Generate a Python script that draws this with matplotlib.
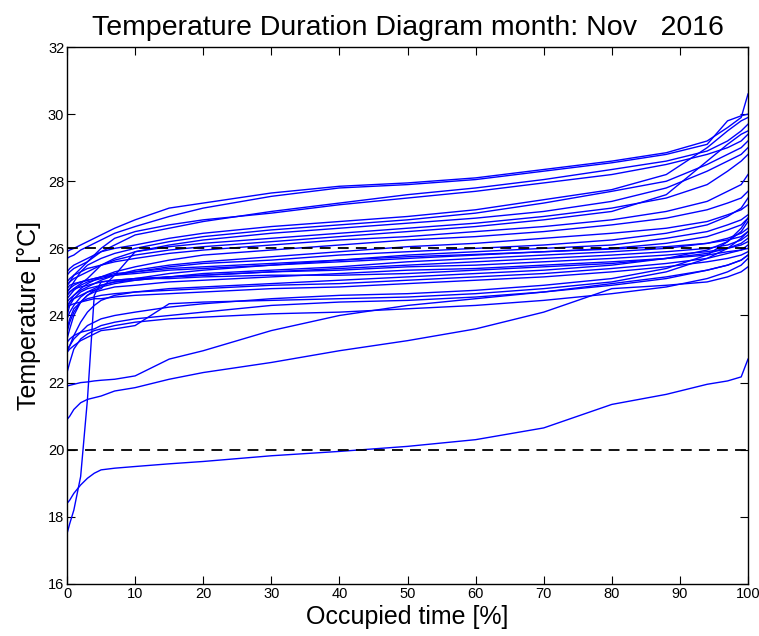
import matplotlib
matplotlib.use("Agg")
import matplotlib.pyplot as plt
import numpy as np

plt.rcParams['font.family'] = ['Liberation Sans', 'DejaVu Sans']

# Occupied-time knots [%] shared by all duration curves
occupied_pct = [0, 0.4, 1, 2, 3, 4, 5, 7, 10, 15, 20, 30, 40, 50, 60, 70, 80, 88, 94, 97, 99, 100]

# Temperature duration curves [°C], one list per room
curves = [
    [25.9, 25.95, 26.0, 26.1, 26.2, 26.3, 26.4, 26.6, 26.85, 27.2, 27.35, 27.65, 27.85, 27.95, 28.1, 28.35, 28.6, 28.85, 29.2, 29.6, 29.9, 30.6],
    [25.7, 25.75, 25.8, 25.95, 26.05, 26.15, 26.25, 26.45, 26.65, 26.95, 27.2, 27.55, 27.8, 27.9, 28.05, 28.3, 28.55, 28.8, 29.1, 29.8, 29.95, 30.0],
    [25.2, 25.3, 25.4, 25.5, 25.6, 25.75, 25.9, 26.1, 26.4, 26.6, 26.8, 27.1, 27.35, 27.6, 27.8, 28.05, 28.35, 28.6, 28.9, 29.2, 29.5, 29.7],
    [24.9, 25.0, 25.2, 25.4, 25.6, 25.8, 26.0, 26.3, 26.5, 26.7, 26.85, 27.05, 27.3, 27.5, 27.7, 27.95, 28.2, 28.5, 28.8, 29.0, 29.2, 29.4],
    [25.3, 25.4, 25.5, 25.6, 25.7, 25.8, 25.9, 26.0, 26.1, 26.3, 26.45, 26.65, 26.8, 26.95, 27.15, 27.45, 27.75, 28.2, 29.0, 29.5, 29.8, 29.9],
    [24.7, 24.8, 25.0, 25.3, 25.5, 25.6, 25.7, 25.85, 26.0, 26.2, 26.35, 26.55, 26.7, 26.85, 27.05, 27.35, 27.7, 28.0, 28.5, 28.8, 29.0, 29.2],
    [24.6, 24.7, 24.8, 24.95, 25.1, 25.3, 25.5, 25.7, 25.9, 26.1, 26.25, 26.45, 26.6, 26.75, 26.9, 27.1, 27.4, 27.8, 28.3, 28.6, 28.8, 29.0],
    [24.3, 24.4, 24.5, 24.6, 24.7, 24.75, 24.8, 25.2, 25.9, 26.05, 26.15, 26.3, 26.45, 26.6, 26.75, 26.95, 27.2, 27.5, 27.9, 28.3, 28.6, 28.8],
    [25.0, 25.1, 25.2, 25.3, 25.4, 25.45, 25.5, 25.6, 25.7, 25.85, 25.95, 26.1, 26.25, 26.35, 26.5, 26.65, 26.85, 27.1, 27.4, 27.7, 27.9, 28.2],
    [24.2, 24.4, 24.6, 24.8, 24.95, 25.05, 25.15, 25.3, 25.45, 25.65, 25.8, 25.95, 26.1, 26.25, 26.35, 26.5, 26.7, 26.9, 27.15, 27.35, 27.5, 27.7],
    [24.5, 24.6, 24.75, 24.9, 25.0, 25.05, 25.1, 25.2, 25.3, 25.45, 25.55, 25.65, 25.8, 25.9, 26.0, 26.1, 26.25, 26.45, 26.7, 26.95, 27.2, 27.5],
    [23.9, 24.1, 24.3, 24.55, 24.7, 24.8, 24.9, 25.0, 25.1, 25.25, 25.35, 25.5, 25.65, 25.8, 25.9, 26.0, 26.1, 26.3, 26.5, 26.7, 26.85, 27.0],
    [24.8, 24.9, 24.95, 25.0, 25.05, 25.1, 25.15, 25.2, 25.25, 25.35, 25.4, 25.5, 25.6, 25.7, 25.8, 25.9, 26.0, 26.15, 26.35, 26.55, 26.7, 26.9],
    [23.5, 23.8, 24.1, 24.4, 24.6, 24.75, 24.85, 24.95, 25.05, 25.15, 25.25, 25.35, 25.45, 25.6, 25.7, 25.8, 25.9, 26.0, 26.15, 26.3, 26.45, 26.6],
    [24.0, 24.3, 24.5, 24.7, 24.8, 24.85, 24.9, 25.0, 25.05, 25.15, 25.2, 25.3, 25.4, 25.5, 25.6, 25.7, 25.8, 25.9, 26.0, 26.1, 26.25, 26.4],
    [24.6, 24.7, 24.8, 24.85, 24.9, 24.95, 25.0, 25.05, 25.1, 25.15, 25.2, 25.3, 25.35, 25.45, 25.5, 25.6, 25.7, 25.8, 25.9, 26.0, 26.1, 26.2],
    [23.3, 23.6, 24.0, 24.4, 24.6, 24.7, 24.75, 24.85, 24.9, 25.0, 25.05, 25.15, 25.25, 25.35, 25.4, 25.5, 25.6, 25.7, 25.8, 25.9, 25.95, 26.0],
    [17.5, 17.8, 18.2, 19.2, 21.5, 24.6, 25.0, 25.05, 25.1, 25.1, 25.15, 25.2, 25.2, 25.25, 25.35, 25.45, 25.55, 25.7, 25.85, 26.0, 26.15, 26.3],
    [22.9, 23.1, 23.4, 23.8, 24.1, 24.3, 24.45, 24.6, 24.7, 24.8, 24.85, 24.95, 25.05, 25.15, 25.25, 25.35, 25.5, 25.7, 25.95, 26.2, 26.5, 26.8],
    [23.6, 23.9, 24.2, 24.4, 24.5, 24.55, 24.6, 24.65, 24.7, 24.75, 24.8, 24.9, 24.95, 25.05, 25.15, 25.25, 25.4, 25.55, 25.7, 25.85, 25.95, 26.1],
    [24.2, 24.3, 24.35, 24.4, 24.45, 24.5, 24.5, 24.55, 24.6, 24.65, 24.7, 24.8, 24.85, 24.95, 25.05, 25.15, 25.3, 25.45, 25.6, 25.7, 25.8, 25.9],
    [23.0, 23.1, 23.3, 23.5, 23.7, 23.8, 23.9, 24.0, 24.1, 24.25, 24.35, 24.5, 24.6, 24.65, 24.75, 24.9, 25.1, 25.4, 25.8, 26.2, 26.6, 26.9],
    [22.9, 23.0, 23.1, 23.25, 23.35, 23.45, 23.55, 23.6, 23.7, 24.35, 24.4, 24.45, 24.5, 24.55, 24.65, 24.8, 25.0, 25.3, 25.7, 26.0, 26.3, 26.5],
    [23.2, 23.3, 23.4, 23.5, 23.55, 23.6, 23.7, 23.8, 23.9, 24.0, 24.1, 24.3, 24.4, 24.45, 24.55, 24.7, 24.9, 25.1, 25.35, 25.5, 25.65, 25.8],
    [22.3, 22.6, 23.0, 23.3, 23.45, 23.55, 23.6, 23.7, 23.8, 23.9, 23.95, 24.05, 24.1, 24.2, 24.3, 24.45, 24.65, 24.85, 25.1, 25.3, 25.5, 25.7],
    [21.9, 21.92, 21.95, 22.0, 22.02, 22.05, 22.07, 22.1, 22.2, 22.7, 22.95, 23.55, 24.0, 24.3, 24.5, 24.7, 24.95, 25.15, 25.35, 25.5, 25.65, 25.8],
    [20.9, 21.0, 21.2, 21.4, 21.5, 21.55, 21.6, 21.75, 21.85, 22.1, 22.3, 22.6, 22.95, 23.25, 23.6, 24.1, 24.8, 24.9, 25.0, 25.15, 25.3, 25.45],
    [18.4, 18.5, 18.7, 18.95, 19.15, 19.3, 19.4, 19.45, 19.5, 19.58, 19.65, 19.82, 19.95, 20.1, 20.3, 20.65, 21.35, 21.65, 21.95, 22.05, 22.17, 22.7],
    [24.4, 24.5, 24.6, 24.75, 24.85, 24.95, 25.05, 25.2, 25.35, 25.5, 25.6, 25.75, 25.9, 26.05, 26.15, 26.3, 26.45, 26.6, 26.8, 27.0, 27.15, 27.3],
    [24.7, 24.8, 24.9, 25.0, 25.05, 25.1, 25.15, 25.25, 25.3, 25.4, 25.45, 25.55, 25.65, 25.75, 25.82, 25.9, 25.98, 26.05, 26.15, 26.25, 26.35, 26.5],
    [24.9, 25.0, 25.1, 25.2, 25.3, 25.4, 25.5, 25.65, 25.8, 25.95, 26.05, 26.2, 26.35, 26.5, 26.65, 26.85, 27.1, 27.6, 28.6, 29.1, 29.4, 29.5],
]

# Comfort band limits [°C]
limits = [20, 26]

x_ticks = [0, 10, 20, 30, 40, 50, 60, 70, 80, 90, 100]
y_ticks = [16, 18, 20, 22, 24, 26, 28, 30, 32]

fig = plt.figure(figsize=(7.59, 6.36), dpi=100)
ax = fig.add_axes([0.0883, 0.0818, 0.8972, 0.8443])

for c in curves:
    ax.plot(occupied_pct, c, color='#0000FF', lw=1.0)

for lim in limits:
    ax.axhline(lim, color='black', lw=1.3, ls=(0, (6, 4)))

ax.set_xlim(0, 100)
ax.set_ylim(16, 32)
ax.set_xticks(x_ticks)
ax.set_yticks(y_ticks)
ax.tick_params(direction='in', length=6, width=0.8, top=True, right=True, labelsize=10.5, pad=2)
for s in ax.spines.values():
    s.set_linewidth(1.0)

ax.set_xlabel('Occupied time [%]', fontsize=18, labelpad=3)
ax.set_ylabel('Temperature [°C]', fontsize=18, labelpad=5)
ax.set_title('Temperature Duration Diagram month: Nov   2016', fontsize=20.5, pad=9)

fig.savefig('out.png', dpi=100)
